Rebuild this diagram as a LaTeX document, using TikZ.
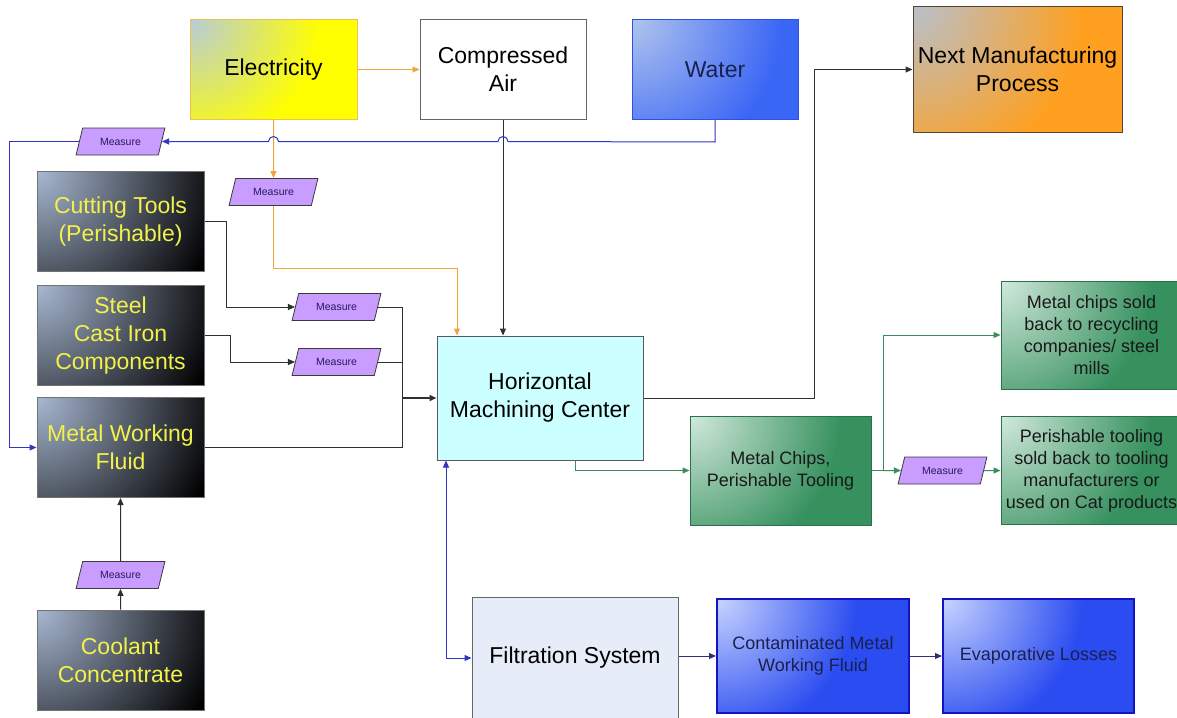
\documentclass[tikz,border=0pt]{standalone}
\usepackage{fontspec}
\setmainfont{Liberation Sans}
\usetikzlibrary{shapes.geometric,arrows.meta}

\definecolor{measfill}{HTML}{C99CFF}
\definecolor{measline}{HTML}{3A3A3A}
\definecolor{meastext}{HTML}{2A1A5A}
\definecolor{oline}{HTML}{EFA53A}
\definecolor{bline}{HTML}{3434C4}
\definecolor{gline}{HTML}{3C8C5C}
\definecolor{kline}{HTML}{303030}
\definecolor{dline}{HTML}{303078}
\definecolor{yellowtext}{HTML}{F2F24A}
\definecolor{stocklight}{HTML}{A8B8D2}
\definecolor{greenlight}{HTML}{D2E9DC}
\definecolor{greenmain}{HTML}{37915F}
\definecolor{greenedge}{HTML}{2A7048}
\definecolor{bluelight}{HTML}{C8D4FF}
\definecolor{bluemain}{HTML}{2A4CF0}
\definecolor{blueedge}{HTML}{1414C0}
\definecolor{navytext}{HTML}{1A2050}
\definecolor{eleclight}{HTML}{B8CCD8}
\definecolor{elecmain}{HTML}{FFFF00}
\definecolor{elecedge}{HTML}{F0C050}
\definecolor{waterlight}{HTML}{B0C4EE}
\definecolor{watermain}{HTML}{3A66F5}
\definecolor{wateredge}{HTML}{3050E0}
\definecolor{nextlight}{HTML}{B8C0CC}
\definecolor{nextmain}{HTML}{FFA020}
\definecolor{nextedge}{HTML}{554433}
\definecolor{hmcfill}{HTML}{CCFFFF}
\definecolor{filtfill}{HTML}{E6ECF8}

\begin{document}
\begin{tikzpicture}[x=1pt,y=-1pt,
  big/.style={font=\fontsize{23}{28}\selectfont},
  mid/.style={font=\fontsize{18}{22}\selectfont},
  box/.style={rectangle, inner sep=0pt, align=center, line width=1pt},
  cshade/.style n args={3}{path picture={
    \fill[#2] (path picture bounding box.south west) rectangle (path picture bounding box.north east);
    \shade[inner color=#1, outer color=#2] (path picture bounding box.north west) circle[radius=#3];
  }},
  stock/.style={box, big, draw=black!55, text=yellowtext, cshade={stocklight}{black}{190pt},
    minimum width=167pt, minimum height=100pt},
  greenbox/.style={box, mid, draw=greenedge, text=black!90, cshade={greenlight}{greenmain}{150pt}},
  bluebox/.style={box, mid, draw=blueedge, line width=2pt, text=navytext, cshade={bluelight}{bluemain}{140pt},
    minimum width=192pt, minimum height=114pt},
  measure/.style={trapezium, trapezium left angle=64, trapezium right angle=116, trapezium stretches=true,
    minimum width=89pt, minimum height=27pt, inner sep=0pt, fill=measfill, draw=measline, line width=0.8pt,
    font=\fontsize{10.5}{12}\selectfont, text=meastext},
  tip/.style={-{Triangle[length=7pt,width=6pt]}},
  oarrow/.style={tip, draw=oline, line width=1pt},
  barrow/.style={tip, draw=bline, line width=1pt},
  garrow/.style={tip, draw=gline, line width=1pt},
  karrow/.style={tip, draw=kline, line width=1pt},
  darrow/.style={tip, draw=dline, line width=1pt},
]
\useasboundingbox (0,0) rectangle (1177,717);
\clip (0,0) rectangle (1177,717);
\fill[white] (0,0) rectangle (1177,717);

% utilities
\node[box, big, draw=elecedge, cshade={eleclight}{elecmain}{130pt},
  minimum width=167pt, minimum height=99pt] (elec) at (273.5,69.5) {Electricity};
\node[box, big, draw=black!60, fill=white, minimum width=166pt, minimum height=99pt]
  (air) at (503,69.5) {Compressed\\Air};
\node[box, big, draw=wateredge, text=navytext, cshade={waterlight}{watermain}{150pt},
  minimum width=166pt, minimum height=99pt] (water) at (715,69.5) {Water};
\node[box, big, draw=nextedge, cshade={nextlight}{nextmain}{170pt},
  minimum width=209pt, minimum height=125pt] (next) at (1017.5,69.5) {Next Manufacturing\\Process};

% raw materials
\node[stock] (cut) at (120.5,221.5) {Cutting Tools\\(Perishable)};
\node[stock] (steel) at (120.5,335.5) {Steel\\Cast Iron\\Components};
\node[stock] (mwf) at (120.5,447.5) {Metal Working\\Fluid};
\node[stock] (cool) at (120.5,660) {Coolant\\Concentrate};

% measuring points
\node[measure] (meas_w) at (120.5,141.5) {Measure};
\node[measure] (meas_e) at (273.5,192) {Measure};
\node[measure] (meas_c) at (336.5,307) {Measure};
\node[measure] (meas_s) at (336.5,362) {Measure};
\node[measure] (meas_k) at (120.5,575) {Measure};
\node[measure] (meas_g) at (942.5,470.5) {Measure};

% machining and outputs
\node[box, big, draw=black!65, fill=hmcfill, minimum width=206pt, minimum height=124pt]
  (hmc) at (540,398) {Horizontal\\Machining Center};
\node[greenbox, minimum width=181pt, minimum height=109pt] (chips) at (780.5,470.5)
  {Metal Chips,\\Perishable Tooling};
\node[greenbox, minimum width=181pt, minimum height=108pt] (sold) at (1091.5,335)
  {Metal chips sold\\back to recycling\\companies/ steel\\mills};
\node[greenbox, minimum width=181pt, minimum height=108pt] (perish) at (1091.5,470.5)
  {Perishable tooling\\sold back to tooling\\manufacturers or\\used on Cat products};
\node[box, big, draw=black!60, fill=filtfill, minimum width=206pt, minimum height=122pt]
  (filt) at (575,658) {\raisebox{2pt}{Filtration System}};
\node[bluebox] (cont) at (813,656) {Contaminated Metal\\Working Fluid};
\node[bluebox, minimum width=191pt] (evap) at (1038.5,656) {Evaporative Losses};

% electricity
\draw[oarrow] (elec) -- (air);
\draw[oarrow] (elec.south) -- (meas_e.north);
\draw[oarrow] (meas_e.south) -- ++(0,63) -| ([xshift=-83pt]hmc.north);

% compressed air
\draw[karrow] (air.south) -- (air.south |- hmc.north);

% water, hopping over the two vertical feeds
\draw[barrow] (water.south) -- ++(0,22.5) -- (508,141.5)
  arc[start angle=0, end angle=180, radius=5pt] -- (278.5,141.5)
  arc[start angle=0, end angle=180, radius=5pt] -- (meas_w.east);
\draw[barrow] (meas_w.west) -| (9,447.5) -- (mwf.west);

% tools and parts
\draw[karrow] (cut.east) -- ++(21.5,0) |- (meas_c.west);
\draw[karrow] (steel.east) -- ++(26,0) |- (meas_s.west);
\coordinate (merge) at (402,398);
\draw[kline, line width=1pt] (meas_c.east) -| (402,447.5) -- (mwf.east);
\draw[kline, line width=1pt] (meas_s.east) -- (meas_s.east -| merge);
\draw[tip, draw=kline, line width=1.8pt] (merge) -- (hmc.west);

% coolant
\draw[karrow] (cool.north) -- (meas_k.south);
\draw[karrow] (meas_k.north) -- (mwf.south);

% outputs
\draw[karrow] (hmc.east) -- (814,398) |- (next.west);
\draw[garrow] ([xshift=35pt]hmc.south) |- (chips.west);
\coordinate (split) at (883,470.5);
\draw[garrow] (chips.east) -- (split) |- (sold.west);
\draw[garrow] (split) -- (meas_g.west);
\draw[garrow] (meas_g.east) -- (perish.west);

% fluid loop
\draw[{Triangle[length=7pt,width=6pt]}-{Triangle[length=7pt,width=6pt]}, draw=bline, line width=1pt]
  ([xshift=-94pt]hmc.south) |- (filt.west);
\draw[darrow] (filt.east |- cont.west) -- (cont.west);
\draw[darrow] (cont) -- (evap);
\end{tikzpicture}
\end{document}
